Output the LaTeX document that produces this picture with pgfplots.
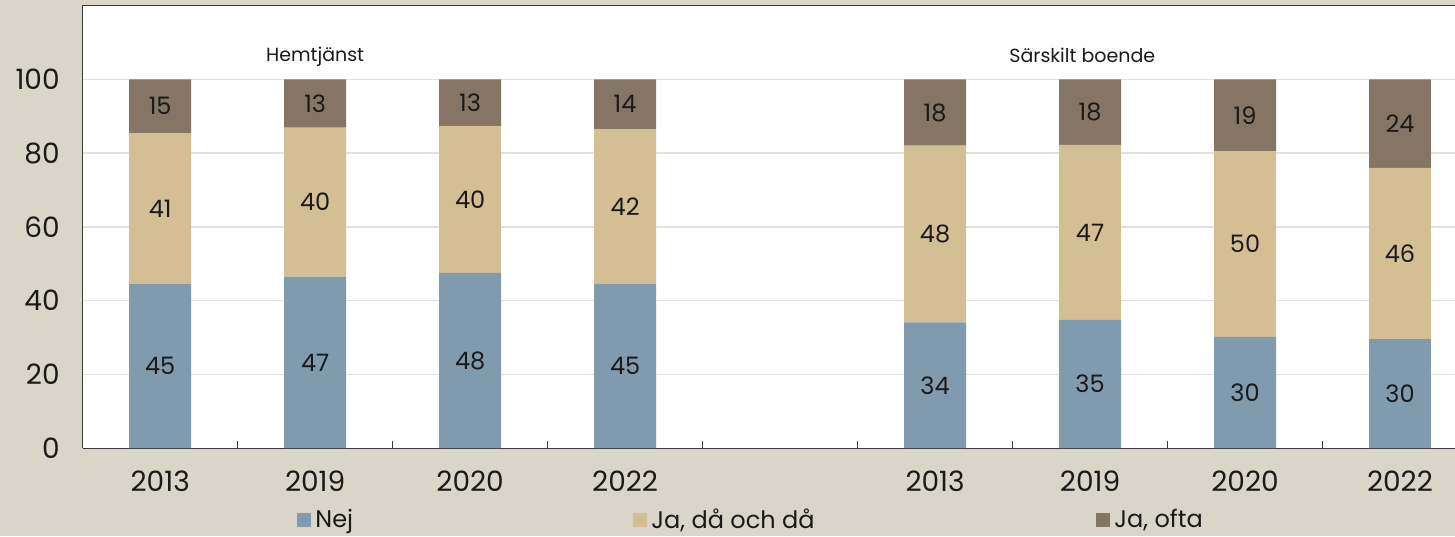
\documentclass[border=0pt]{standalone}
\usepackage{fontspec}
\setmainfont{Poppins}
\usepackage{pgfplots}
\usepackage{pgfplotstable}
\pgfplotsset{compat=1.18}
\definecolor{bgc}{HTML}{D9D6C9}
\definecolor{nejc}{HTML}{7F9BAD}
\definecolor{jac}{HTML}{D4BE94}
\definecolor{oftac}{HTML}{857565}
\definecolor{gridc}{HTML}{E4E1D9}
\definecolor{axc}{HTML}{3A3A3A}
\definecolor{txt}{HTML}{1A1A1A}

\pgfplotstableread{
x nej nejl ja jal ofta oftal
0 44.5 45 40.9 41 14.6 15
1 46.5 47 40.4 40 13.1 13
2 47.5 48 39.8 40 12.7 13
3 44.6 45 41.9 42 13.5 14
5 34.1 34 47.9 48 18.0 18
6 34.8 35 47.4 47 17.8 18
7 30.2 30 50.3 50 19.5 19
8 29.6 30 46.4 46 24.0 24
}\data

\begin{document}
\begin{tikzpicture}
\fill[bgc] (-41.35pt,-43.9pt) rectangle (686.15pt,224.1pt);
\begin{axis}[
  at={(0pt,0pt)}, anchor=south west,
  scale only axis, width=686.15pt, height=221.35pt,
  ybar stacked, bar width=0.4,
  xmin=-0.5, xmax=8.355, ymin=0, ymax=120,
  enlargelimits=false,
  axis x line*=box, axis y line*=left,
  axis line style={draw=axc, line width=0.7pt, -},
  y axis line style={-},
  axis background/.style={fill=white},
  /pgf/number format/assume math mode=true,
  xtick={0,1,2,3,5,6,7,8},
  xticklabels={2013,2019,2020,2022,2013,2019,2020,2022},
  minor xtick={0.5,1.5,2.5,3.5,4.5,5.5,6.5,7.5},
  xtick pos=bottom, ytick pos=left,
  ytick={0,20,40,60,80,100},
  major tick length=0pt, minor tick length=3.5pt, tick align=inside,
  minor tick style={draw=axc, line width=0.7pt},
  ymajorgrids, grid style={draw=gridc, line width=0.7pt},
  yticklabel style={font=\fontsize{14}{16}\selectfont, text=txt, xshift=-8pt},
  xticklabel style={font=\fontsize{14}{16}\selectfont, text=txt, yshift=-8pt},
  point meta=explicit symbolic,
  nodes near coords={\pgfplotspointmeta},
  every node near coord/.append style={font=\fontsize{12}{14}\selectfont, text=txt, anchor=center},
  legend style={at={(0.1562,-0.162)}, anchor=west, legend columns=3, draw=none, fill=none,
    font=\fontsize{12}{14}\selectfont, text=txt, inner sep=0pt,
    nodes={inner sep=2pt},
    /tikz/every even column/.append style={column sep=0pt}},
  legend image code/.code={\path[#1,draw=none] (0pt,-3.5pt) rectangle (7pt,3.5pt);},
]
\addplot[fill=nejc, draw=none]
  table[x=x, y=nej, meta=nejl] {\data};
\addlegendentry{\makebox[157pt][l]{Nej}}
\addplot[fill=jac, draw=none]
  table[x=x, y=ja, meta=jal] {\data};
\addlegendentry{\makebox[220.5pt][l]{Ja, då och då}}
\addplot[fill=oftac, draw=none]
  table[x=x, y=ofta, meta=oftal] {\data};
\addlegendentry{Ja, ofta}
\node[font=\fontsize{9.5}{11}\selectfont, text=txt] at (axis cs:1,106) {Hemtjänst};
\node[font=\fontsize{9.5}{11}\selectfont, text=txt] at (axis cs:5.95,106.5) {Särskilt boende};
\end{axis}
\pgfresetboundingbox
\path (-41.35pt,-43.9pt) rectangle (686.15pt,224.1pt);
\end{tikzpicture}
\end{document}
